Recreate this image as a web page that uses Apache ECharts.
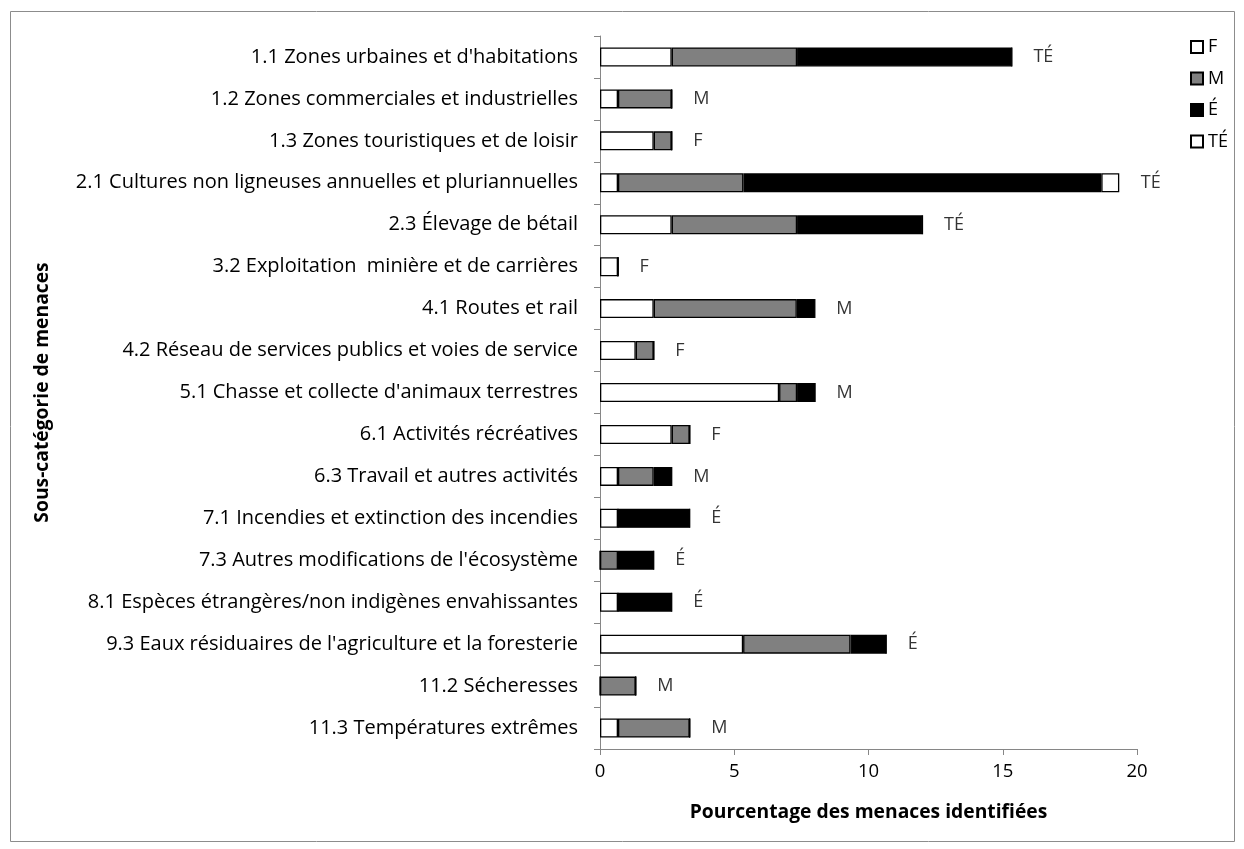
<!DOCTYPE html>
<html>
<head>
<meta charset="utf-8">
<script src="https://cdn.jsdelivr.net/npm/echarts@6/dist/echarts.min.js"></script>
<style>
  html, body { margin: 0; padding: 0; background: #fff; }
  #chart { width: 1244px; height: 849px; }
</style>
</head>
<body>
<div id="chart"></div>
<script>
// Threat sub-categories (top to bottom)
const categories = [
  "1.1 Zones urbaines et d'habitations",
  "1.2 Zones commerciales et industrielles",
  "1.3 Zones touristiques et de loisir",
  "2.1 Cultures non ligneuses annuelles et pluriannuelles",
  "2.3 Élevage de bétail",
  "3.2 Exploitation  minière et de carrières",
  "4.1 Routes et rail",
  "4.2 Réseau de services publics et voies de service",
  "5.1 Chasse et collecte d'animaux terrestres",
  "6.1 Activités récréatives",
  "6.3 Travail et autres activités",
  "7.1 Incendies et extinction des incendies",
  "7.3 Autres modifications de l'écosystème",
  "8.1 Espèces étrangères/non indigènes envahissantes",
  "9.3 Eaux résiduaires de l'agriculture et la foresterie",
  "11.2 Sécheresses",
  "11.3 Températures extrêmes"
];

// Percentage of identified threats, by impact level
const valuesF  = [2.67, 0.67, 2.00, 0.67, 2.67, 0.67, 2.00, 1.33, 6.67, 2.67, 0.67, 0.67, 0,    0.67, 5.33, 0,    0.67];
const valuesM  = [4.67, 2.00, 0.67, 4.67, 4.67, 0,    5.33, 0.67, 0.67, 0.67, 1.33, 0,    0.67, 0,    4.00, 1.33, 2.67];
const valuesE  = [8.00, 0,    0,    13.33, 4.67, 0,   0.67, 0,    0.67, 0,    0.67, 2.67, 1.33, 2.00, 1.33, 0,    0];
const valuesTE = [0,    0,    0,    0.67, 0,    0,    0,    0,    0,    0,    0,    0,    0,    0,    0,    0,    0];

// Overall impact rating written after each bar
const ratings = ["TÉ", "M", "F", "TÉ", "TÉ", "F", "M", "F", "M", "F", "M", "É", "É", "É", "É", "M", "M"];

// x-axis ticks
const xTicks = [0, 5, 10, 15, 20];

const FONT = "'Open Sans', 'Noto Sans', sans-serif";
const totals = categories.map((_, i) => valuesF[i] + valuesM[i] + valuesE[i] + valuesTE[i]);

function barSeries(name, data, color) {
  return {
    name: name,
    type: 'bar',
    stack: 'total',
    data: data,
    barWidth: 19,
    itemStyle: { color: color, borderColor: '#000', borderWidth: 1.3 },
    emphasis: { disabled: true }
  };
}

const chart = echarts.init(document.getElementById('chart'));
chart.setOption({
  animation: false,
  backgroundColor: '#fff',
  textStyle: { fontFamily: FONT },
  graphic: [{
    type: 'rect',
    shape: { x: 10.5, y: 11.5, width: 1224, height: 830 },
    style: { fill: 'none', stroke: '#8c8c8c', lineWidth: 1 },
    silent: true
  }],
  grid: { left: 600, right: 107, top: 36, bottom: 100, containLabel: false },
  legend: {
    orient: 'vertical',
    left: 1185,
    top: 33,
    itemWidth: 12,
    itemHeight: 12,
    itemGap: 13.5,
    icon: 'rect',
    data: ['F', 'M', 'É', 'TÉ'],
    textStyle: { fontFamily: FONT, fontSize: 18, lineHeight: 18, color: '#000', padding: [0, 0, 0, 0] }
  },
  xAxis: {
    type: 'value',
    min: xTicks[0],
    max: xTicks[xTicks.length - 1],
    interval: xTicks[1] - xTicks[0],
    name: 'Pourcentage des menaces identifiées',
    nameLocation: 'middle',
    nameGap: 54,
    nameTextStyle: { fontFamily: FONT, fontSize: 19.3, fontWeight: 'bold', color: '#000' },
    axisLine: { show: true, lineStyle: { color: '#868686', width: 1 } },
    axisTick: { show: true, length: 6, lineStyle: { color: '#868686' } },
    axisLabel: { fontFamily: FONT, fontSize: 18.5, color: '#000', margin: 13 },
    splitLine: { show: false }
  },
  yAxis: {
    type: 'category',
    inverse: true,
    data: categories,
    name: 'Sous-catégorie de menaces',
    nameLocation: 'middle',
    nameRotate: 90,
    nameGap: 548,
    nameTextStyle: { fontFamily: FONT, fontSize: 19.3, fontWeight: 'bold', color: '#000' },
    axisLine: { show: true, lineStyle: { color: '#868686', width: 1 } },
    axisTick: { show: true, length: 6, lineStyle: { color: '#868686' } },
    axisLabel: { fontFamily: FONT, fontSize: 20, color: '#000', margin: 22 },
    splitLine: { show: false }
  },
  series: [
    barSeries('F', valuesF, '#ffffff'),
    barSeries('M', valuesM, '#808080'),
    barSeries('É', valuesE, '#000000'),
    barSeries('TÉ', valuesTE, '#ffffff'),
    {
      name: 'rating',
      type: 'scatter',
      data: totals.map((t, i) => [t, categories[i]]),
      symbolSize: 1,
      itemStyle: { color: 'rgba(0,0,0,0)' },
      silent: true,
      label: {
        show: true,
        position: 'right',
        distance: 21,
        formatter: p => ratings[p.dataIndex],
        fontFamily: FONT,
        fontSize: 18,
        color: '#000'
      }
    }
  ]
});
</script>
</body>
</html>
